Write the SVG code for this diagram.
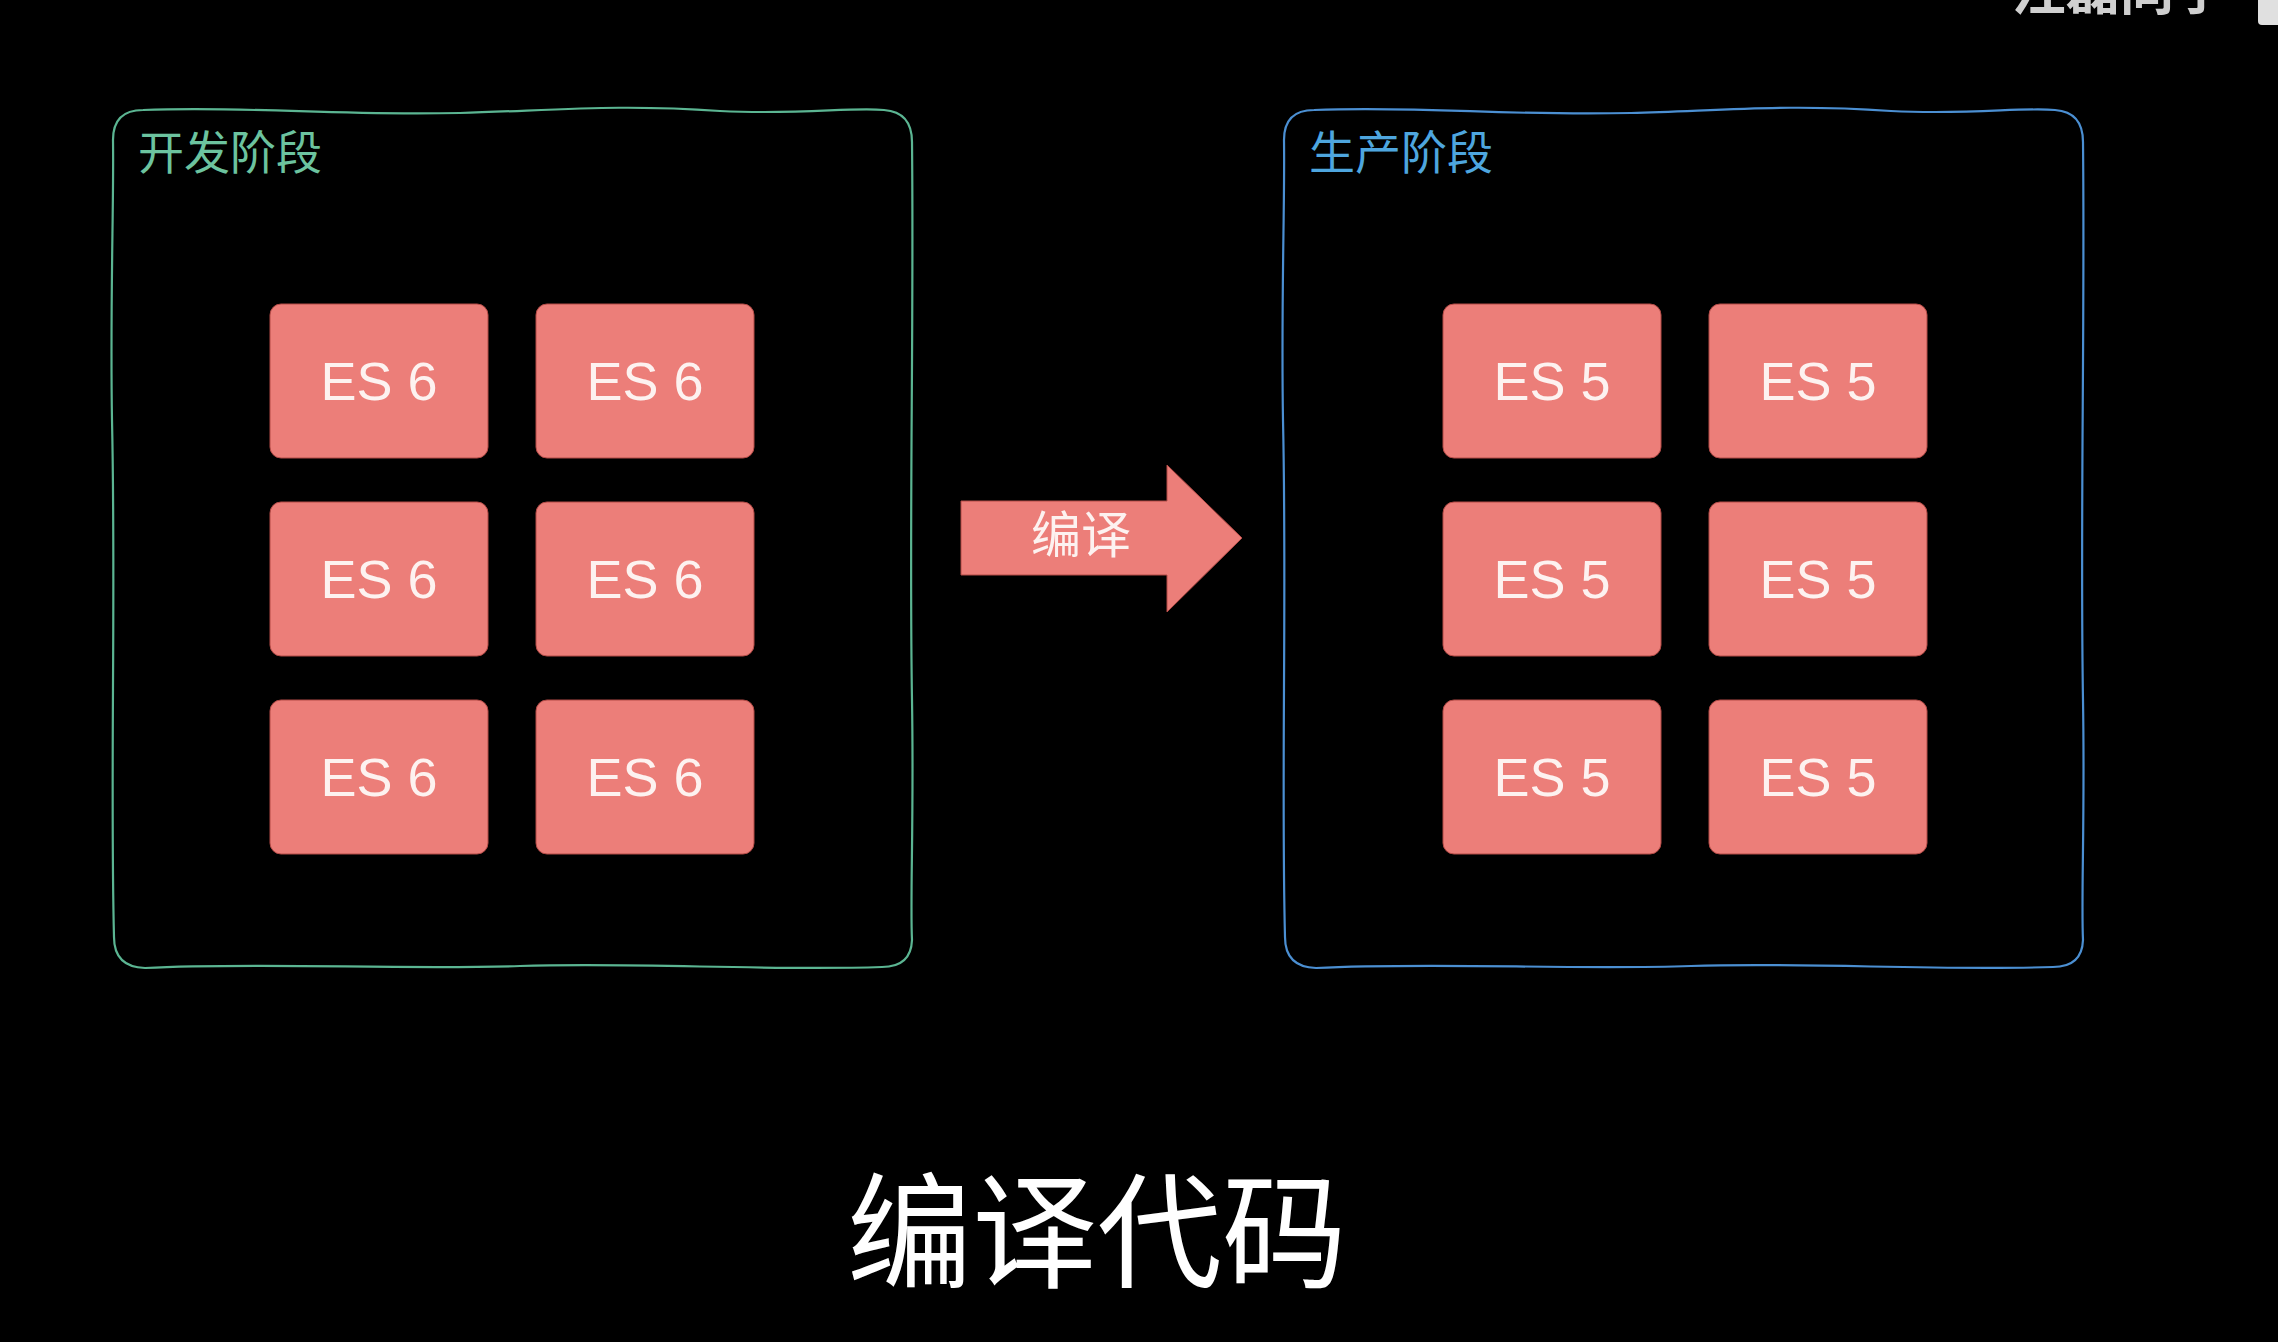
<svg xmlns="http://www.w3.org/2000/svg" width="2278" height="1342" viewBox="0 0 2278 1342">
<style>
.bg{fill:#000}
.frame{fill:none;stroke-width:2.2;stroke-linejoin:round}
.dev{stroke:#5bb592}
.prod{stroke:#4b8fd2}
.title{font-family:"Noto Sans CJK SC","Noto Sans",sans-serif;font-size:46px}
.es rect{fill:#ec7e79;stroke:#b34a46;stroke-width:1}
.es text{font-family:"Liberation Sans","Noto Sans",sans-serif;font-size:54px;fill:#fdf2f0;text-anchor:middle}
.cn{font-family:"Noto Sans CJK SC",sans-serif;text-anchor:middle}
</style>
<defs>
<path id="frameShape" d="M 143 110 C 260 106, 330 116, 460 113 C 560 110, 620 104, 720 111 C 800 115, 850 107, 884 110 Q 912 112, 912 142 C 914 330, 909 520, 912 700 C 914 820, 910 900, 912 940 Q 911 967, 882 967 C 760 971, 640 962, 520 966 C 400 970, 260 962, 145 968 Q 114 967, 114 937 C 110 780, 116 600, 112 420 C 110 300, 114 200, 113 140 Q 113 110, 143 110 Z"/>
</defs>
<rect class="bg" x="0" y="0" width="2278" height="1342"/>

<g id="dev-stage">
<use href="#frameShape" class="frame dev"/>
<text class="title" x="138" y="169" fill="#6cc39f">开发阶段</text>
</g>
<g id="prod-stage">
<use href="#frameShape" class="frame prod" transform="translate(1171,0)"/>
<text class="title" x="1309" y="169" fill="#4ea6df">生产阶段</text>
</g>

<g id="es6-1" class="es"><rect x="270" y="304" width="218" height="154" rx="11"/><text x="379" y="400">ES 6</text></g>
<g id="es6-2" class="es"><rect x="536" y="304" width="218" height="154" rx="11"/><text x="645" y="400">ES 6</text></g>
<g id="es6-3" class="es"><rect x="270" y="502" width="218" height="154" rx="11"/><text x="379" y="598">ES 6</text></g>
<g id="es6-4" class="es"><rect x="536" y="502" width="218" height="154" rx="11"/><text x="645" y="598">ES 6</text></g>
<g id="es6-5" class="es"><rect x="270" y="700" width="218" height="154" rx="11"/><text x="379" y="796">ES 6</text></g>
<g id="es6-6" class="es"><rect x="536" y="700" width="218" height="154" rx="11"/><text x="645" y="796">ES 6</text></g>

<g id="es5-1" class="es"><rect x="1443" y="304" width="218" height="154" rx="11"/><text x="1552" y="400">ES 5</text></g>
<g id="es5-2" class="es"><rect x="1709" y="304" width="218" height="154" rx="11"/><text x="1818" y="400">ES 5</text></g>
<g id="es5-3" class="es"><rect x="1443" y="502" width="218" height="154" rx="11"/><text x="1552" y="598">ES 5</text></g>
<g id="es5-4" class="es"><rect x="1709" y="502" width="218" height="154" rx="11"/><text x="1818" y="598">ES 5</text></g>
<g id="es5-5" class="es"><rect x="1443" y="700" width="218" height="154" rx="11"/><text x="1552" y="796">ES 5</text></g>
<g id="es5-6" class="es"><rect x="1709" y="700" width="218" height="154" rx="11"/><text x="1818" y="796">ES 5</text></g>

<g id="connectors">
<g id="compile-arrow">
<polygon points="961,501 1167,501 1167,465 1242,538 1167,612 1167,575 961,575" fill="#ec7e79" stroke="#b34a46" stroke-width="1"/>
<text class="cn" x="1081" y="553" font-size="50" fill="#fdf2f0">编译</text>
</g>
</g>

<g id="caption">
<text class="cn" x="1097" y="1278" font-size="125" fill="#ffffff">编译代码</text>
</g>

<g id="watermark">
<text x="2012" y="10" font-family="Noto Sans CJK SC,sans-serif" font-size="54" font-weight="bold" fill="#cfcfcf">汪磊同学</text>
<rect x="2258" y="-10" width="30" height="35" rx="4" fill="#e0e0e0"/>
</g>
</svg>
